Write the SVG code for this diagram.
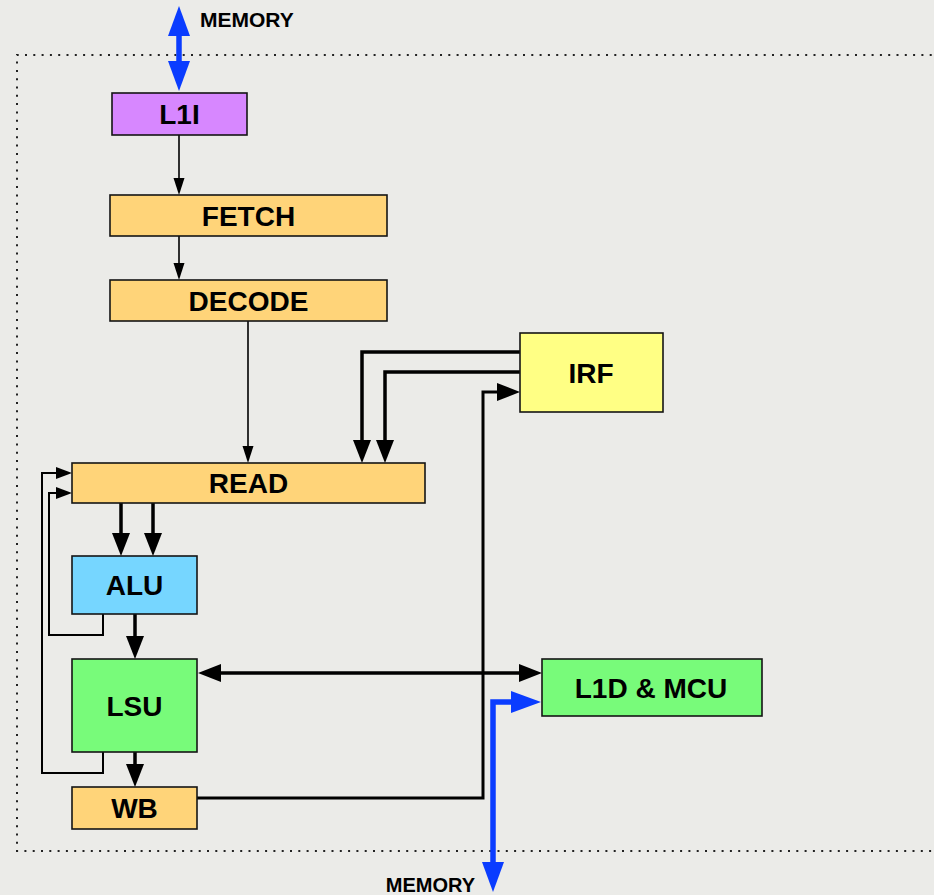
<svg xmlns="http://www.w3.org/2000/svg" width="934" height="895" viewBox="0 0 934 895">
<defs>
<style>
.box{stroke:#141414;stroke-width:1.6}
.lbl{font-family:"Liberation Sans",Arial,sans-serif;font-weight:bold;font-size:28px;fill:#000;text-anchor:middle}
.mem{font-family:"Liberation Sans",Arial,sans-serif;font-weight:bold;font-size:20px;fill:#000}
.thin{fill:none;stroke:#000;stroke-width:1.6}
.thick{fill:none;stroke:#000;stroke-width:3.5}
.fb{fill:none;stroke:#000;stroke-width:2}
.blue{fill:none;stroke:#0a3cff;stroke-width:5.5}
.orange{fill:#ffd479}
.green{fill:#78fb7a}
</style>
<marker id="mThin" markerUnits="userSpaceOnUse" markerWidth="17" markerHeight="11" refX="0" refY="5.5" orient="auto" overflow="visible"><path d="M0,0 L17,5.5 L0,11 z" fill="#000"/></marker>
<marker id="mThick" markerUnits="userSpaceOnUse" markerWidth="23" markerHeight="18" refX="0" refY="9" orient="auto-start-reverse" overflow="visible"><path d="M0,0 L23,9 L0,18 z" fill="#000"/></marker>
<marker id="mFb" markerUnits="userSpaceOnUse" markerWidth="16" markerHeight="12" refX="0" refY="6" orient="auto" overflow="visible"><path d="M0,0 L16,6 L0,12 z" fill="#000"/></marker>
<marker id="mBlue" markerUnits="userSpaceOnUse" markerWidth="30" markerHeight="22" refX="0" refY="11" orient="auto-start-reverse" overflow="visible"><path d="M0,0 L30,11 L0,22 z" fill="#0a3cff"/></marker>
</defs>
<rect x="0" y="0" width="934" height="895" fill="#ebebe8"/>
<path d="M940,55 L17,55 L17,851 L940,851" fill="none" stroke="#222" stroke-width="2" stroke-dasharray="2 6.3"/>

<g id="connectors">
<path class="blue" d="M179,36 L179,61" marker-start="url(#mBlue)" marker-end="url(#mBlue)"/>
<path class="blue" d="M511,702 L493,702 L493,862" marker-start="url(#mBlue)" marker-end="url(#mBlue)"/>
<path class="thin" d="M179,135 L179,178" marker-end="url(#mThin)"/>
<path class="thin" d="M179,236 L179,263" marker-end="url(#mThin)"/>
<path class="thin" d="M248,321 L248,446" marker-end="url(#mThin)"/>
<path class="thick" d="M520,352 L362,352 L362,440" marker-end="url(#mThick)"/>
<path class="thick" d="M520,372 L385,372 L385,440" marker-end="url(#mThick)"/>
<path class="thick" d="M197,798 L483,798 L483,392 L497,392" marker-end="url(#mThick)" style="stroke-width:3"/>
<path class="thick" d="M121,503 L121,533" marker-end="url(#mThick)"/>
<path class="thick" d="M153,503 L153,533" marker-end="url(#mThick)"/>
<path class="thick" d="M135,614 L135,636" marker-end="url(#mThick)"/>
<path class="thick" d="M135,752 L135,764" marker-end="url(#mThick)"/>
<path class="thick" d="M221,673 L519,673" marker-start="url(#mThick)" marker-end="url(#mThick)"/>
<path class="fb" d="M103,614 L103,635 L49,635 L49,493 L56,493" marker-end="url(#mFb)"/>
<path class="fb" d="M103,752 L103,773 L42,773 L42,473 L56,473" marker-end="url(#mFb)"/>
</g>

<text class="mem" x="200" y="27" style="font-size:21px">MEMORY</text>
<text class="mem" x="475" y="892" text-anchor="end">MEMORY</text>

<g id="L1I"><rect class="box" x="112" y="93" width="135" height="42" fill="#d787ff"/><text class="lbl" x="179.5" y="124">L1I</text></g>
<g id="FETCH"><rect class="box orange" x="110" y="195" width="277" height="41"/><text class="lbl" x="248.5" y="225.5">FETCH</text></g>
<g id="DECODE"><rect class="box orange" x="110" y="280" width="277" height="41"/><text class="lbl" x="248.5" y="310.5">DECODE</text></g>
<g id="IRF"><rect class="box" x="520" y="333" width="143" height="79" fill="#ffff84"/><text class="lbl" x="591" y="383">IRF</text></g>
<g id="READ"><rect class="box orange" x="72" y="463" width="353" height="40"/><text class="lbl" x="248.5" y="493">READ</text></g>
<g id="ALU"><rect class="box" x="72" y="556" width="125" height="58" fill="#76d6ff"/><text class="lbl" x="134.5" y="595">ALU</text></g>
<g id="LSU"><rect class="box green" x="72" y="659" width="125" height="93"/><text class="lbl" x="134.5" y="716">LSU</text></g>
<g id="WB"><rect class="box orange" x="72" y="787" width="125" height="42"/><text class="lbl" x="134.5" y="818">WB</text></g>
<g id="L1D"><rect class="box green" x="542" y="659" width="220" height="57"/><text class="lbl" x="651" y="698">L1D &amp; MCU</text></g>
</svg>
